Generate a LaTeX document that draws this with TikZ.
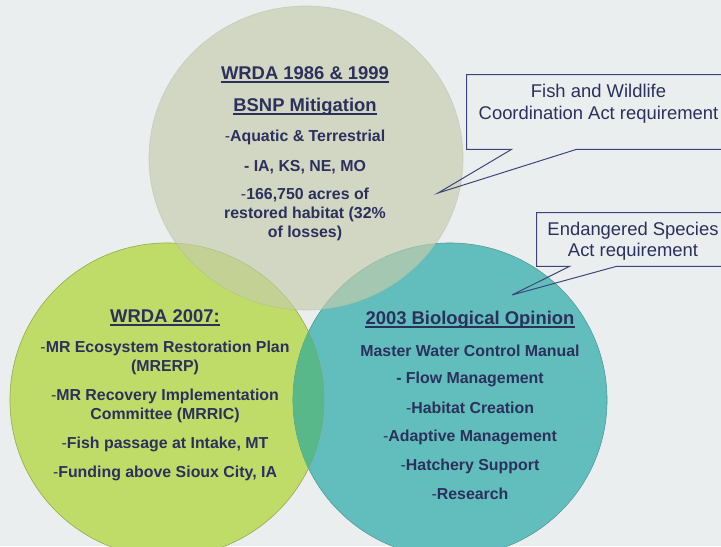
\documentclass[tikz,border=0pt]{standalone}
\usepackage{fontspec}
\setmainfont{Liberation Sans}
\usepackage{xcolor}
\usetikzlibrary{positioning, calc}

\definecolor{navytext}{RGB}{43,48,92}
\definecolor{calloutline}{RGB}{60,68,120}
\definecolor{bgpale}{RGB}{234,238,238}
\definecolor{sagefill}{RGB}{198,204,172}
\definecolor{limefill}{RGB}{192,220,104}
\definecolor{tealfill}{RGB}{98,190,188}
\definecolor{mixgreen}{RGB}{88,184,138}

\begin{document}
\begin{tikzpicture}[x=0.025cm, y=-0.025cm,
    % Text styles
    headtext/.style={font=\fontsize{13.1}{15.5}\selectfont\bfseries, text=navytext, inner sep=0pt},
    bodytext/.style={font=\fontsize{11.3}{13.5}\selectfont\bfseries, text=navytext, align=center, inner sep=0pt},
    calltext/.style={font=\fontsize{13.1}{16}\selectfont, text=navytext, align=center, inner sep=0pt},
    callbox/.style={rectangle, inner sep=0pt},
    % Lines
    headline/.style={navytext, line width=1.2pt},
    callline/.style={calloutline, line width=0.7pt, line join=miter}
]

\useasboundingbox (0,0) rectangle (721,546);
\clip (0,0) rectangle (721,546);
\fill[bgpale] (0,0) rectangle (721,546);

% Venn circles
\filldraw[fill=limefill, draw=limefill!85!black, line width=0.4pt] (167,400) circle [radius=3.925cm];
\filldraw[fill=tealfill, draw=tealfill!80!black, line width=0.4pt] (450,400) circle [radius=3.925cm];
\begin{scope}
    \clip (167,400) circle [radius=3.925cm];
    \fill[mixgreen] (450,400) circle [radius=3.925cm];
\end{scope}
\draw[limefill!70!black, line width=0.3pt, opacity=0.5] (167,400) circle [radius=3.925cm];
\filldraw[fill=sagefill, fill opacity=0.65, draw=sagefill!85!black, draw opacity=0.4] (306,158) ellipse [x radius=3.925cm, y radius=3.8cm];

% Top circle
\node[headtext] (wrdaold) at (305,73) {WRDA 1986 \& 1999};
\node[headtext] (bsnp) at (305,107) {BSNP Mitigation};
\node[bodytext] (aquatic) at (305,137) {\textmd{-}Aquatic \& Terrestrial};
\node[bodytext] (states) at (305,167) {- IA, KS, NE, MO};
\node[bodytext] (acres) at (305,214) {\textmd{-}166,750 acres of\\restored habitat (32\%\\of losses)};
\draw[headline] ([yshift=-1.8pt]wrdaold.base west) -- ([yshift=-1.8pt]wrdaold.base east);
\draw[headline] ([yshift=-1.8pt]bsnp.base west) -- ([yshift=-1.8pt]bsnp.base east);

% Left circle
\node[headtext] (wrdanew) at (165,316) {WRDA 2007:};
\node[bodytext] (mrerp) at (165,357.5) {\textmd{-}MR Ecosystem Restoration Plan\\(MRERP)};
\node[bodytext] (mrric) at (165,405.5) {\textmd{-}MR Recovery Implementation\\Committee (MRRIC)};
\node[bodytext] (fishpass) at (165,444) {\textmd{-}Fish passage at Intake, MT};
\node[bodytext] (funding) at (165,473) {\textmd{-}Funding above Sioux City, IA};
\draw[headline] ([yshift=-1.8pt]wrdanew.base west) -- ([yshift=-1.8pt]wrdanew.base east);

% Right circle
\node[headtext] (biop) at (470,320) {2003 Biological Opinion};
\node[bodytext] (mastermanual) at (470,351) {Master Water Control Manual};
\node[bodytext] (flowmgmt) at (470,379) {- Flow Management};
\node[bodytext] (habitat) at (470,408) {\textmd{-}Habitat Creation};
\node[bodytext] (adaptive) at (470,437) {\textmd{-}Adaptive Management};
\node[bodytext] (hatchery) at (470,466) {\textmd{-}Hatchery Support};
\node[bodytext] (research) at (470,494) {\textmd{-}Research};
\draw[headline] ([yshift=-1.8pt]biop.base west) -- ([yshift=-1.8pt]biop.base east);

% Callouts
\node[callbox, minimum width=6.575cm, minimum height=1.85cm] (fishbox) at (598.5,112) {};
\node[calltext] (fishtext) at (598.5,103.5) {Fish and Wildlife\\Coordination Act requirement};
\coordinate (fishtip) at (438,193);
\draw[callline] (fishbox.south east) -- (fishbox.north east) -- (fishbox.north west) -- (fishbox.south west)
    -- ($(fishbox.south west)+(45,0)$) -- (fishtip) -- ($(fishbox.south west)+(110,0)$) -- cycle;

\node[callbox, minimum width=4.8cm, minimum height=1.325cm] (esabox) at (633,239.5) {};
\node[calltext, font=\fontsize{13.1}{15}\selectfont] (esatext) at (633,241.5) {Endangered Species\\Act requirement};
\coordinate (esatip) at (512,295);
\draw[callline] (esabox.south east) -- (esabox.north east) -- (esabox.north west) -- (esabox.south west)
    -- ($(esabox.south west)+(33,0)$) -- (esatip) -- ($(esabox.south west)+(80,0)$) -- cycle;

\end{tikzpicture}
\end{document}
